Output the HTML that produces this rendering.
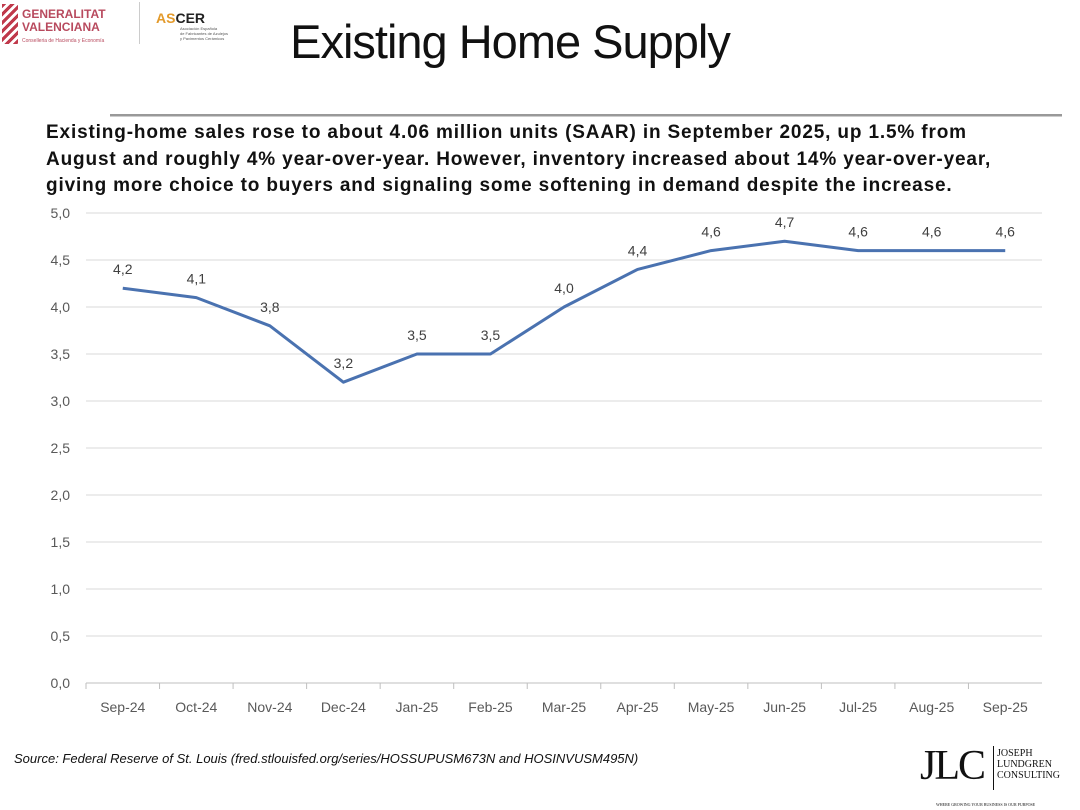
<!DOCTYPE html>
<html><head><meta charset="utf-8"><style>
body{margin:0;width:1080px;height:810px;background:#fff;font-family:"Liberation Sans",sans-serif;position:relative;overflow:hidden}
.abs{position:absolute}
</style></head><body>
<div class="abs" style="left:2px;top:4px;width:130px;height:44px">
 <div style="position:absolute;left:0;top:0;width:16px;height:40px;background:repeating-linear-gradient(135deg,#c0394b 0 3px,#fff 3px 6px)"></div>
 <div style="position:absolute;left:20px;top:4px;font-size:12px;line-height:13px;color:#b84a5e;font-weight:bold">GENERALITAT<br>VALENCIANA</div>
 <div style="position:absolute;left:20px;top:34px;font-size:5px;color:#b84a5e">Conselleria de Hacienda y Economía</div>
</div>
<div class="abs" style="left:139px;top:2px;width:1px;height:42px;background:#ccc"></div>
<div class="abs" style="left:156px;top:10px">
 <div style="font-size:14px;font-weight:bold;color:#222"><span style="color:#e39a2b">AS</span>CER</div>
 <div style="font-size:4px;color:#555;margin-left:24px;line-height:5px">Asociación Española<br>de Fabricantes de Azulejos<br>y Pavimentos Cerámicos</div>
</div>
<div class="abs" style="left:0;width:1020px;top:14px;text-align:center;font-size:47px;color:#111;letter-spacing:-1px">Existing Home Supply</div>
<div class="abs" style="left:110px;top:114px;width:952px;height:2px;background:#999;border-bottom:1px solid #ccc"></div>
<div class="abs" style="left:46px;top:120px;width:1030px;white-space:nowrap;font-size:19px;letter-spacing:0.85px;font-weight:bold;line-height:26.5px;color:#111">Existing-home sales rose to about 4.06 million units (SAAR) in September 2025, up 1.5% from<br>August and roughly 4% year-over-year. However, inventory increased about 14% year-over-year,<br>giving more choice to buyers and signaling some softening in demand despite the increase.</div>
<svg class="abs" style="left:0;top:0" width="1080" height="810" id="chart"></svg>
<div class="abs" style="left:14px;top:751px;font-size:13px;font-style:italic;color:#111">Source: Federal Reserve of St. Louis (fred.stlouisfed.org/series/HOSSUPUSM673N and HOSINVUSM495N)</div>
<div class="abs" style="left:920px;top:742px;width:160px;height:68px;font-family:'Liberation Serif',serif">
 <div style="position:absolute;left:0;top:0;font-size:42px;line-height:48px;color:#111;letter-spacing:-2px">JLC</div>
 <div style="position:absolute;left:73px;top:4px;width:1px;height:44px;background:#111"></div>
 <div style="position:absolute;left:77px;top:6px;font-size:10px;line-height:11px;color:#111">JOSEPH<br>LUNDGREN<br>CONSULTING</div>
 <div style="position:absolute;left:16px;top:60px;font-size:4px;color:#111">WHERE GROWING YOUR BUSINESS IS OUR PURPOSE</div>
</div>
<script>
const categories=["Sep-24","Oct-24","Nov-24","Dec-24","Jan-25","Feb-25","Mar-25","Apr-25","May-25","Jun-25","Jul-25","Aug-25","Sep-25"];
const values=[4.2,4.1,3.8,3.2,3.5,3.5,4.0,4.4,4.6,4.7,4.6,4.6,4.6];
const yTicks=[0,0.5,1,1.5,2,2.5,3,3.5,4,4.5,5];
const svg=document.getElementById('chart');const NS='http://www.w3.org/2000/svg';
const L=86,R=1042,Y0=683,Y1=213,yMax=5;
const y=v=>Y0-(v/yMax)*(Y0-Y1);
const step=(R-L)/categories.length;
const x=i=>L+step*(i+0.5);
const fmt=v=>v.toFixed(1).replace('.',',');
function mk(t,a){const e=document.createElementNS(NS,t);for(const k in a)e.setAttribute(k,a[k]);svg.appendChild(e);return e;}
yTicks.forEach(t=>{
 const g=mk('line',{x1:L,x2:R,y1:y(t),y2:y(t),stroke:t===0?'#bfbfbf':'#d9d9d9','stroke-width':1});
 
 
 const tx=mk('text',{x:L-16,y:y(t)+5,'text-anchor':'end','font-size':14,fill:'#595959','font-family':'Liberation Sans'});
 tx.textContent=fmt(t);
 
 
});
categories.forEach((c,i)=>{
 const tk=mk('line',{x1:L+step*i,x2:L+step*i,y1:Y0,y2:Y0+6,stroke:'#bfbfbf'});
 
 
 const tx=mk('text',{x:x(i),y:Y0+29,'text-anchor':'middle','font-size':14,fill:'#595959','font-family':'Liberation Sans'});
 tx.textContent=c;
 
 
});
const p=mk('polyline',{points:values.map((v,i)=>x(i)+','+y(v)).join(' '),fill:'none',stroke:'#4a72b0','stroke-width':3,'stroke-linejoin':'round'});


values.forEach((v,i)=>{
 const tx=mk('text',{x:x(i),y:y(v)-14,'text-anchor':'middle','font-size':14,fill:'#404040','font-family':'Liberation Sans'});
 tx.textContent=fmt(v);
 
 
});
</script>
</body></html>
